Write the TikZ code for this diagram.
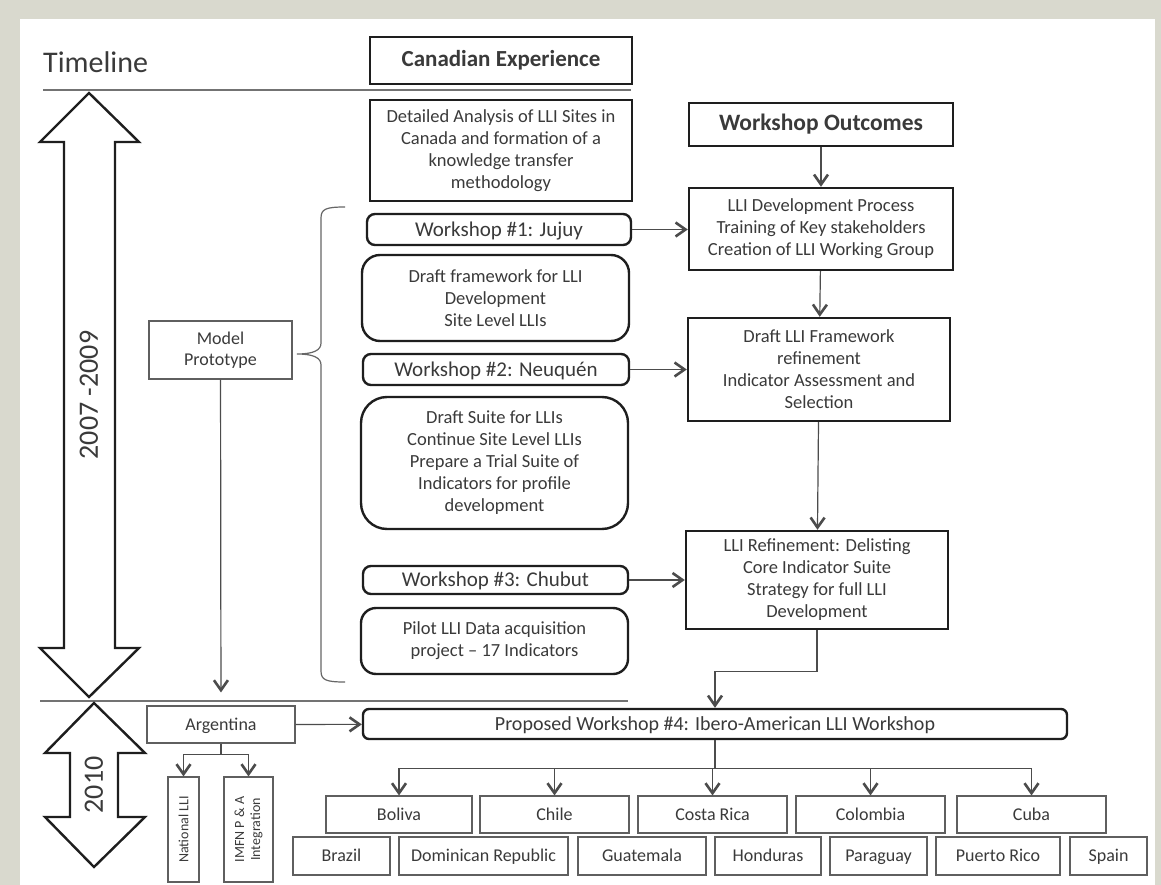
\documentclass[tikz,border=0pt]{standalone}
\usepackage{fontspec}
\setmainfont{Carlito}
\usetikzlibrary{arrows.meta}
\definecolor{panelgrey}{RGB}{217,217,206}
\definecolor{txt}{RGB}{58,58,58}
\definecolor{edge}{RGB}{30,30,30}
\definecolor{thinedge}{RGB}{95,95,95}
\begin{document}
\begin{tikzpicture}[x=1pt, y=-1pt,
    heavy/.style = {draw=edge, line width=2.4pt, text=txt, align=center,
        inner sep=0pt, font=\fontsize{18.5}{22}\selectfont},
    light/.style = {draw=thinedge, line width=1.1pt, text=txt, align=center,
        inner sep=0pt, font=\fontsize{18}{21}\selectfont},
    country/.style = {light, text height=13.5pt, text depth=2pt},
    pill/.style = {heavy, rounded corners=8pt, text height=16pt, text depth=2.5pt,
        font=\fontsize{21}{24}\selectfont},
    arr/.style = {draw=black!70, line width=1.2pt,
        -{Straight Barb[length=10pt,width=14pt,line width=2.6pt]}},
    rule/.style = {draw=black!55, line width=1.5pt},
    bigarrow/.style = {draw=edge, fill=white, line width=2.4pt}]
  % background
  \fill[panelgrey] (0,0) rectangle (1161,885);
  \fill[white] (20,19) rectangle (1155,885);
  % timeline
  \node (tl) [anchor=base west, text=txt, font=\fontsize{30}{34}\selectfont,
      inner sep=0pt] at (43,73) {Timeline};
  \draw[rule] (43,90) -- (631,90);
  \draw[rule] (40,701) -- (628,701);
  \draw[bigarrow] (89,93) -- (139,142) -- (115,142) -- (115,648) -- (139,648)
      -- (89,697) -- (40,648) -- (64,648) -- (64,142) -- (40,142) -- cycle;
  \draw[bigarrow] (94,703) -- (145,753) -- (118,753) -- (118,817) -- (145,817)
      -- (94,867) -- (45,817) -- (70,817) -- (70,753) -- (45,753) -- cycle;
  \node (per1) [rotate=90, text=txt, font=\fontsize{28}{32}\selectfont]
      at (89,395) {2007 -2009};
  \node (per2) [rotate=90, text=txt, font=\fontsize{28}{32}\selectfont]
      at (94,785) {2010};
  % canadian column
  \node (canexp) [heavy, minimum width=262, minimum height=47,
      font=\bfseries\fontsize{23}{27}\selectfont] at (501,60.5)
      {Canadian Experience};
  \node (detail) [heavy, minimum width=262, minimum height=101] at (501,150.5)
      {Detailed Analysis of LLI Sites in\\Canada and formation of a\\knowledge transfer\\methodology};
  \node (ws1) [pill, minimum width=264, minimum height=31] at (499,229.5)
      {Workshop \#1: Jujuy};
  \node (dfw) [heavy, rounded corners=18pt, minimum width=267, minimum height=86]
      at (495.5,298) {Draft framework for LLI\\Development\\Site Level LLIs};
  \node (ws2) [pill, minimum width=266, minimum height=31] at (496,369.5)
      {Workshop \#2: Neuquén};
  \node (dsuite) [heavy, rounded corners=26pt, minimum width=267, minimum height=132]
      at (494.5,463) {Draft Suite for LLIs\\Continue Site Level LLIs\\Prepare a Trial Suite of\\Indicators for profile\\development};
  \node (ws3) [pill, minimum width=265, minimum height=28] at (495.5,580)
      {Workshop \#3: Chubut};
  \node (pilot) [heavy, rounded corners=15pt, minimum width=267, minimum height=66]
      at (494.5,641) {Pilot LLI Data acquisition\\project -- 17 Indicators};
  % outcomes column
  \node (wout) [heavy, minimum width=264, minimum height=43,
      font=\bfseries\fontsize{23.5}{27}\selectfont] at (821,124.5)
      {Workshop Outcomes};
  \node (lldev) [heavy, minimum width=264, minimum height=82] at (821,229)
      {LLI Development Process\\Training of Key stakeholders\\Creation of LLI Working Group};
  \node (dllf) [heavy, minimum width=262, minimum height=103] at (819,369.5)
      {Draft LLI Framework\\refinement\\Indicator Assessment and\\Selection};
  \node (llref) [heavy, minimum width=262, minimum height=98] at (817,580)
      {LLI Refinement: Delisting\\Core Indicator Suite\\Strategy for full LLI\\Development};
  \draw[arr] (wout) -- (lldev);
  \draw[arr] (lldev) -- (dllf);
  \draw[arr] (dllf) -- (llref);
  \draw[arr] (ws1) -- (ws1 -| lldev.west);
  \draw[arr] (ws2) -- (ws2 -| dllf.west);
  \draw[arr] (ws3) -- (ws3 -| llref.west);
  % model prototype and brace
  \node (mp) [light, minimum width=143, minimum height=58] at (220.5,350)
      {Model\\Prototype};
  \draw[draw=black!60, line width=1.2pt] (345,207) .. controls (326,207) and (321,209) .. (321,218)
      -- (321,343) .. controls (321,350) and (314,354) .. (297,354)
      .. controls (314,354) and (321,358) .. (321,365) -- (321,671)
      .. controls (321,680) and (326,682) .. (345,682);
  % 2010
  \node (arg) [country, minimum width=148, minimum height=37] at (221,724.5)
      {Argentina};
  \node (ws4) [heavy, rounded corners=6pt, minimum width=704, minimum height=30,
      text height=15.5pt, text depth=2.6pt, font=\fontsize{20}{24}\selectfont]
      at (715,724) {Proposed Workshop \#4: Ibero-American LLI Workshop};
  \node (natl) [light, rotate=90, minimum width=105, minimum height=31,
      font=\fontsize{14}{16}\selectfont] at (183.5,829.5) {National LLI};
  \node (imfn) [light, rotate=90, minimum width=105, minimum height=49,
      font=\fontsize{14}{16}\selectfont] at (248.5,829.5) {IMFN P \& A\\Integration};
  \draw[arr, shorten >=13pt] (mp) -- (arg);
  \draw[arr] (arg) -- (ws4);
  \draw[arr] (llref.south) -- ++(0,41) -| (ws4.north);
  \draw[arr] (arg.south) -- ++(0,11) -| (natl.east);
  \draw[arr] (arg.south) -- ++(0,11) -| (imfn.east);
  % countries
  \node (bol) [country, minimum width=146, minimum height=37] at (399,814.5) {Boliva};
  \node (chi) [country, minimum width=149, minimum height=37] at (554.5,814.5) {Chile};
  \node (cr) [country, minimum width=149, minimum height=37] at (712.5,814.5) {Costa Rica};
  \node (col) [country, minimum width=149, minimum height=37] at (870.5,814.5) {Colombia};
  \node (cub) [country, minimum width=149, minimum height=37] at (1031.5,814.5) {Cuba};
  \node (bra) [country, minimum width=97, minimum height=38] at (341.5,856) {Brazil};
  \node (dom) [country, minimum width=169, minimum height=38] at (483.5,856) {Dominican Republic};
  \node (gua) [country, minimum width=128, minimum height=38] at (642,856) {Guatemala};
  \node (hon) [country, minimum width=106, minimum height=38] at (768,856) {Honduras};
  \node (par) [country, minimum width=97, minimum height=38] at (878.5,856) {Paraguay};
  \node (pue) [country, minimum width=124, minimum height=38] at (998,856) {Puerto Rico};
  \node (spa) [country, minimum width=77, minimum height=38] at (1108.5,856) {Spain};
  \foreach \c in {bol,chi,cr,col,cub}
    \draw[arr] (ws4.south) -- ++(0,28) -| (\c.north);
\end{tikzpicture}
\end{document}
